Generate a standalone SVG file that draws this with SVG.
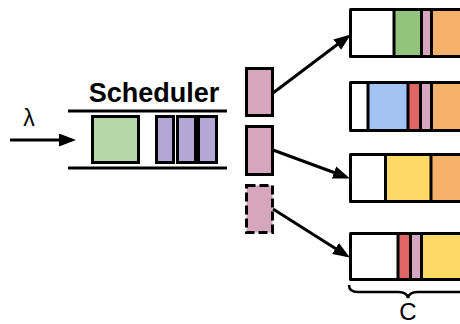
<svg xmlns="http://www.w3.org/2000/svg" width="460" height="324" viewBox="0 0 460 324">
  <defs>
    <marker id="arrow" markerUnits="userSpaceOnUse" markerWidth="17" markerHeight="13" refX="13" refY="6.5" orient="auto">
      <path d="M0,0 L17,6.5 L0,13 z" fill="#000"/>
    </marker>
  </defs>
  <style>
    .ln { stroke: #000; stroke-width: 3; fill: none; }
    .box { stroke: #000; stroke-width: 3; }
    .div { stroke: #000; stroke-width: 3; }
    .outline { fill: none; stroke: #000; stroke-width: 3; stroke-linejoin: round; }
    .lbl { font-family: "Liberation Sans", Arial, sans-serif; fill: #000; }
    .green { fill: #93c47d; }
    .lgreen { fill: #b6d7a8; }
    .purple { fill: #b4a7d6; }
    .pink { fill: #d5a6bd; }
    .orange { fill: #f6b26b; }
    .blue { fill: #a4c2f4; }
    .red { fill: #e06666; }
    .yellow { fill: #ffd966; }
    .white { fill: #fff; }
  </style>

  <!-- arrival rate -->
  <g id="arrival">
    <text class="lbl" x="29" y="126" font-size="23" text-anchor="middle">λ</text>
  </g>

  <!-- scheduler queue -->
  <g id="scheduler">
    <text class="lbl" x="154" y="102" font-size="27" font-weight="bold" text-anchor="middle">Scheduler</text>
    <line class="ln" x1="68" y1="111" x2="227" y2="111"/>
    <line class="ln" x1="68" y1="168" x2="227" y2="168"/>
    <rect class="box lgreen" x="92.5" y="116.5" width="46" height="46"/>
    <rect class="box purple" x="156.5" y="116.5" width="17" height="46"/>
    <rect class="box purple" x="177.5" y="116.5" width="18" height="46"/>
    <rect class="box purple" x="198.5" y="116.5" width="18" height="46"/>
  </g>

  <!-- dispatched requests -->
  <g id="request-1">
    <rect class="box pink" x="246.5" y="68.5" width="26" height="47"/>
  </g>
  <g id="request-2">
    <rect class="box pink" x="246.5" y="126.5" width="26" height="48"/>
  </g>
  <g id="request-3">
    <rect class="pink" x="246.5" y="185.5" width="26" height="47" stroke="#000" stroke-width="3" stroke-dasharray="9 4"/>
  </g>

  <!-- server 1 -->
  <g id="server-1">
    <rect class="white" x="350" y="9" width="44" height="48"/>
    <rect class="green" x="394" y="9" width="28" height="48"/>
    <rect class="pink" x="421" y="9" width="11" height="48"/>
    <rect class="orange" x="431" y="9" width="40" height="48"/>
    <line class="div" x1="394" y1="9" x2="394" y2="57"/>
    <line class="div" x1="421.5" y1="9" x2="421.5" y2="57"/>
    <line class="div" x1="431.5" y1="9" x2="431.5" y2="57"/>
    <path class="outline" d="M470,9.5 H350.5 V56.5 H470"/>
  </g>

  <!-- server 2 -->
  <g id="server-2">
    <rect class="white" x="350" y="82" width="18" height="48"/>
    <rect class="blue" x="368" y="82" width="40" height="48"/>
    <rect class="red" x="408" y="82" width="13" height="48"/>
    <rect class="pink" x="420" y="82" width="12" height="48"/>
    <rect class="orange" x="431" y="82" width="40" height="48"/>
    <line class="div" x1="368" y1="82" x2="368" y2="130"/>
    <line class="div" x1="408" y1="82" x2="408" y2="130"/>
    <line class="div" x1="420.5" y1="82" x2="420.5" y2="130"/>
    <line class="div" x1="431.5" y1="82" x2="431.5" y2="130"/>
    <path class="outline" d="M470,82.5 H350.5 V130.5 H470"/>
  </g>

  <!-- server 3 -->
  <g id="server-3">
    <rect class="white" x="350" y="154" width="36" height="48"/>
    <rect class="yellow" x="385" y="154" width="47" height="48"/>
    <rect class="orange" x="431" y="154" width="40" height="48"/>
    <line class="div" x1="385.5" y1="154" x2="385.5" y2="202"/>
    <line class="div" x1="431" y1="154" x2="431" y2="202"/>
    <path class="outline" d="M470,154.5 H350.5 V201.5 H470"/>
  </g>

  <!-- server 4 -->
  <g id="server-4">
    <rect class="white" x="350" y="233" width="48" height="47"/>
    <rect class="red" x="398" y="233" width="13" height="47"/>
    <rect class="pink" x="410" y="233" width="12" height="47"/>
    <rect class="yellow" x="421" y="233" width="50" height="47"/>
    <line class="div" x1="398" y1="233" x2="398" y2="280"/>
    <line class="div" x1="410.5" y1="233" x2="410.5" y2="280"/>
    <line class="div" x1="421.5" y1="233" x2="421.5" y2="280"/>
    <path class="outline" d="M470,233.5 H350.5 V279.5 H470"/>
  </g>

  <!-- capacity brace -->
  <g id="capacity">
    <path d="M349,285 Q349,292 358,292 H398 Q407,292 408,298 Q409,292 418,292 H458 Q467,292 467,285" fill="none" stroke="#000" stroke-width="2.5"/>
    <text class="lbl" x="408" y="320" font-size="24" text-anchor="middle">C</text>
  </g>

  <!-- connectors -->
  <g id="connectors">
    <line class="ln" x1="10" y1="140" x2="72" y2="140" marker-end="url(#arrow)"/>
    <line class="ln" x1="273" y1="93" x2="347.6" y2="36.8" marker-end="url(#arrow)"/>
    <line class="ln" x1="273" y1="150" x2="346.2" y2="177" marker-end="url(#arrow)"/>
    <line class="ln" x1="273" y1="209" x2="346.5" y2="255.4" marker-end="url(#arrow)"/>
  </g>
</svg>
